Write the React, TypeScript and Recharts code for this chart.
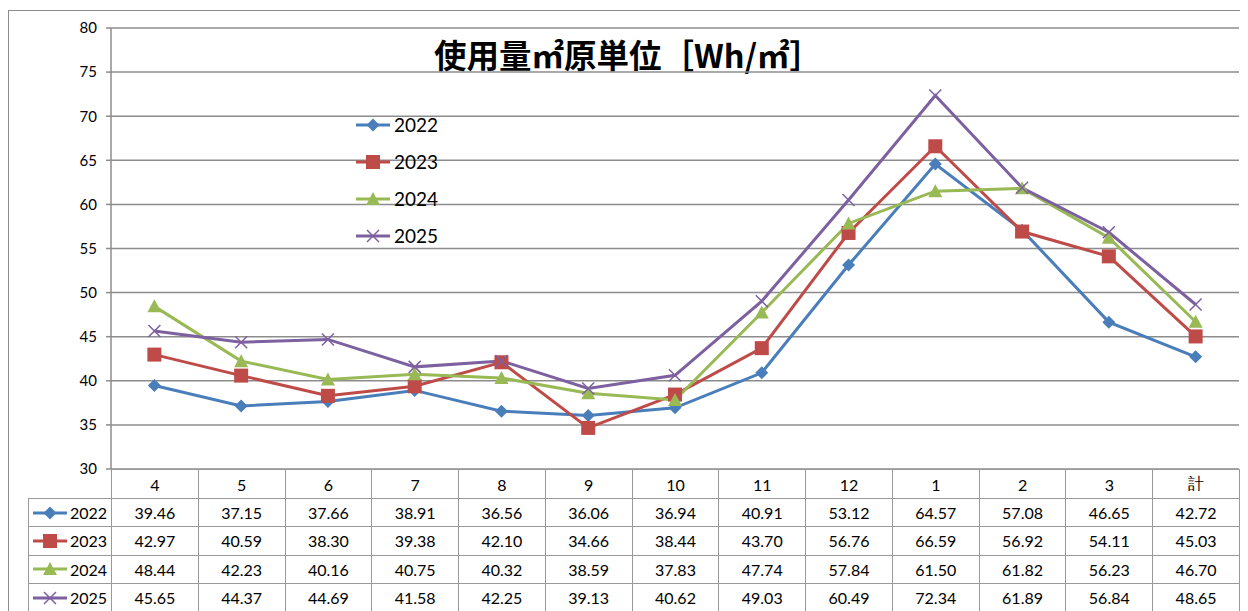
import React from "react";
import {
  LineChart,
  Line,
  XAxis,
  YAxis,
  CartesianGrid,
  Legend,
} from "recharts";

const months = ["4", "5", "6", "7", "8", "9", "10", "11", "12", "1", "2", "3", "計"];
const s2022 = [39.46, 37.15, 37.66, 38.91, 36.56, 36.06, 36.94, 40.91, 53.12, 64.57, 57.08, 46.65, 42.72];
const s2023 = [42.97, 40.59, 38.3, 39.38, 42.1, 34.66, 38.44, 43.7, 56.76, 66.59, 56.92, 54.11, 45.03];
const s2024 = [48.44, 42.23, 40.16, 40.75, 40.32, 38.59, 37.83, 47.74, 57.84, 61.5, 61.82, 56.23, 46.7];
const s2025 = [45.65, 44.37, 44.69, 41.58, 42.25, 39.13, 40.62, 49.03, 60.49, 72.34, 61.89, 56.84, 48.65];
const yTicks = [30, 35, 40, 45, 50, 55, 60, 65, 70, 75, 80];

type Kind = "diamond" | "square" | "triangle" | "cross";

const seriesList: { name: string; values: number[]; color: string; kind: Kind }[] = [
  { name: "2022", values: s2022, color: "#4A7EBB", kind: "diamond" },
  { name: "2023", values: s2023, color: "#BE4B48", kind: "square" },
  { name: "2024", values: s2024, color: "#98B954", kind: "triangle" },
  { name: "2025", values: s2025, color: "#7D60A0", kind: "cross" },
];

const data = months.map((m, i) => {
  const row: Record<string, string | number> = { month: m };
  seriesList.forEach((s) => {
    row[s.name] = s.values[i];
  });
  return row;
});

const FONT = "Lato, 'Noto Sans', sans-serif";
const GRID = "#8c8c8c";

function marker(kind: Kind, cx: number, cy: number, color: string, key?: string) {
  if (kind === "diamond") {
    return (
      <polygon
        key={key}
        points={`${cx},${cy - 6.5} ${cx + 6.5},${cy} ${cx},${cy + 6.5} ${cx - 6.5},${cy}`}
        fill={color}
      />
    );
  }
  if (kind === "square") {
    return <rect key={key} x={cx - 7} y={cy - 7} width={14} height={14} fill={color} />;
  }
  if (kind === "triangle") {
    return (
      <polygon
        key={key}
        points={`${cx},${cy - 7} ${cx + 7},${cy + 6} ${cx - 7},${cy + 6}`}
        fill={color}
      />
    );
  }
  return (
    <g key={key} stroke={color} strokeWidth={1.5}>
      <line x1={cx - 6} y1={cy - 6} x2={cx + 6} y2={cy + 6} />
      <line x1={cx - 6} y1={cy + 6} x2={cx + 6} y2={cy - 6} />
    </g>
  );
}

function KeyIcon({ kind, color, w }: { kind: Kind; color: string; w: number }) {
  return (
    <svg width={w} height={16} style={{ display: "block" }}>
      <line x1={1} y1={8} x2={w - 1} y2={8} stroke={color} strokeWidth={3} />
      {marker(kind, w / 2, 8, color)}
    </svg>
  );
}

function LegendBox() {
  return (
    <div style={{ fontFamily: FONT, fontSize: 19, color: "#000" }}>
      {seriesList.map((s) => (
        <div key={s.name} style={{ display: "flex", alignItems: "center", height: 37 }}>
          <KeyIcon kind={s.kind} color={s.color} w={36} />
          <span style={{ marginLeft: 3 }}>{s.name}</span>
        </div>
      ))}
    </div>
  );
}

const colW = 1128 / 13;
const cellBorder = "1px solid #999";

export default function App() {
  return (
    <div style={{ position: "relative", width: 1240, height: 603, overflow: "hidden", background: "#fff" }}>
      <div
        style={{
          position: "absolute",
          left: 0,
          top: 2,
          width: 1400,
          height: 800,
          border: "1px solid #8c8c8c",
        }}
      />
      <div
        style={{
          position: "absolute",
          left: 420,
          width: 400,
          top: 26,
          textAlign: "center",
          fontFamily: "'Noto Sans CJK JP', sans-serif",
          fontWeight: 700,
          fontSize: 32.5,
          lineHeight: "40px",
          color: "#000",
          whiteSpace: "nowrap",
        }}
      >
        使用量㎡原単位［Wh/㎡］
      </div>
      <div style={{ position: "absolute", left: 0, top: 0 }}>
        <LineChart
          width={1240}
          height={470}
          data={data}
          margin={{ top: 20, right: 9, bottom: 9, left: 0 }}
        >
          <CartesianGrid vertical={false} stroke={GRID} strokeWidth={1.5} />
          <XAxis
            dataKey="month"
            hide
            padding={{ left: colW / 2, right: colW / 2 }}
          />
          <YAxis
            width={103}
            domain={[30, 80]}
            ticks={yTicks}
            interval={0}
            axisLine={{ stroke: GRID, strokeWidth: 1.5 }}
            tickLine={{ stroke: GRID, strokeWidth: 1.5 }}
            tickSize={5}
            tickMargin={9}
            tick={{ fontSize: 15, fill: "#000", fontFamily: FONT }}
          />
          <Legend
            layout="vertical"
            align="center"
            verticalAlign="middle"
            content={() => <LegendBox />}
            wrapperStyle={{ position: "absolute", left: 347, top: 98, width: 120 }}
          />
          {seriesList.map((s) => (
            <Line
              key={s.name}
              dataKey={s.name}
              stroke={s.color}
              strokeWidth={3}
              isAnimationActive={false}
              dot={(p: any) => marker(s.kind, p.cx, p.cy, s.color, `${s.name}-${p.index}`)}
              activeDot={false}
            />
          ))}
        </LineChart>
      </div>
      <table
        style={{
          position: "absolute",
          left: 20,
          top: 461,
          borderCollapse: "collapse",
          tableLayout: "fixed",
          width: 83 + 1128,
          fontFamily: FONT,
          fontSize: 16,
          color: "#000",
        }}
      >
        <colgroup>
          <col style={{ width: 83 }} />
          {months.map((m) => (
            <col key={m} style={{ width: colW }} />
          ))}
        </colgroup>
        <tbody>
          <tr style={{ height: 29 }}>
            <td style={{ border: "none", padding: 0 }} />
            {months.map((m) => (
              <td key={m} style={{ border: cellBorder, textAlign: "center", padding: 0 }}>
                {m}
              </td>
            ))}
          </tr>
          {seriesList.map((s) => (
            <tr key={s.name} style={{ height: 28.3 }}>
              <td style={{ border: cellBorder, padding: 0 }}>
                <div style={{ display: "flex", alignItems: "center", paddingLeft: 3 }}>
                  <KeyIcon kind={s.kind} color={s.color} w={36} />
                  <span style={{ marginLeft: 2 }}>{s.name}</span>
                </div>
              </td>
              {s.values.map((v, i) => (
                <td key={i} style={{ border: cellBorder, textAlign: "center", padding: 0 }}>
                  {v.toFixed(2)}
                </td>
              ))}
            </tr>
          ))}
        </tbody>
      </table>
    </div>
  );
}
